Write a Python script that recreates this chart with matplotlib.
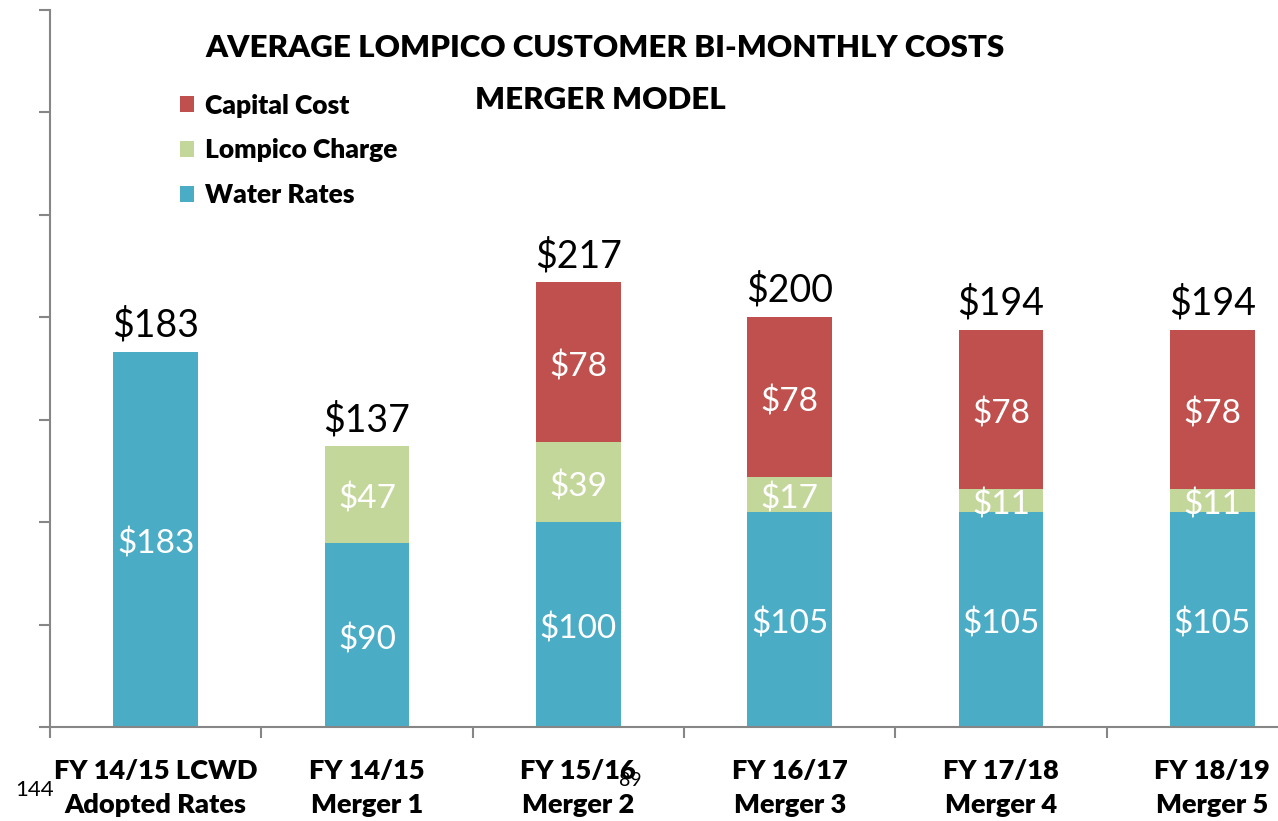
import matplotlib.pyplot as plt
import numpy as np

plt.rcParams['font.family'] = ['Lato', 'DejaVu Sans']

categories = ["FY 14/15 LCWD\nAdopted Rates", "FY 14/15\nMerger 1", "FY 15/16\nMerger 2",
              "FY 16/17\nMerger 3", "FY 17/18\nMerger 4", "FY 18/19\nMerger 5"]
water_rates = [183, 90, 100, 105, 105, 105]
lompico_charge = [0, 47, 39, 17, 11, 11]
capital_cost = [0, 0, 78, 78, 78, 78]
totals = [183, 137, 217, 200, 194, 194]

blue = "#4BACC6"
green = "#C4D79B"
red = "#C0504D"
gray = "#868686"
bold = "heavy"

fig = plt.figure(figsize=(12.78, 8.21), dpi=100)
ax = fig.add_axes([50 / 1278, 94 / 821, 1268 / 1278, 717 / 821])

x = np.arange(len(categories))
w = 0.4
water = np.array(water_rates)
lomp = np.array(lompico_charge)
cap = np.array(capital_cost)

b1 = ax.bar(x, water, w, color=blue, label="Water Rates")
b2 = ax.bar(x, lomp, w, bottom=water, color=green, label="Lompico Charge")
b3 = ax.bar(x, cap, w, bottom=water + lomp, color=red, label="Capital Cost")


def inner_label(xi, yi, v):
    ax.annotate(f"${v}", xy=(xi, yi), xytext=(0, -3.5), textcoords="offset points",
                color="white", ha="center", va="center", fontsize=24)


for i in range(len(x)):
    inner_label(x[i], water[i] / 2, water[i])
    if lomp[i] > 0:
        inner_label(x[i], water[i] + lomp[i] / 2, lomp[i])
    if cap[i] > 0:
        inner_label(x[i], water[i] + lomp[i] + cap[i] / 2, cap[i])
    ax.annotate(f"${totals[i]}", xy=(x[i], totals[i]), xytext=(0, 6), textcoords="offset points",
                ha="center", va="bottom", fontsize=27)

ax.set_xlim(-0.5, 5.5)
ax.set_ylim(0, 350)
ax.set_yticks(np.arange(0, 351, 50))
ax.set_yticklabels([])
ax.set_xticks(np.arange(-0.5, 5.5, 1))
ax.set_xticklabels([])
ax.tick_params(axis="both", direction="out", length=8, width=1.5, color=gray)
ax.spines["top"].set_visible(False)
ax.spines["right"].set_visible(False)
for s in ["left", "bottom"]:
    ax.spines[s].set_color(gray)
    ax.spines[s].set_linewidth(1.5)

for i, c in enumerate(categories):
    ax.text(x[i], -0.044, c, transform=ax.get_xaxis_transform(), ha="center", va="top",
            fontsize=19.5, fontweight=bold, linespacing=1.5)

fig.text(605 / 1278, 1 - 48 / 821, "AVERAGE LOMPICO CUSTOMER BI-MONTHLY COSTS", ha="center", va="center",
         fontsize=22.5, fontweight=bold)
fig.text(600 / 1278, 1 - 100 / 821, "MERGER MODEL", ha="center", va="center",
         fontsize=22.5, fontweight=bold)

ax.legend(handles=[b3, b2, b1], loc="upper left", bbox_to_anchor=(156 / 1278, 1 - 70 / 821),
          bbox_transform=fig.transFigure, frameon=False, prop={"weight": bold, "size": 19},
          handlelength=0.55, handleheight=0.55, handletextpad=0.4, labelspacing=0.78)

fig.text(15 / 1278, 1 - 790 / 821, "144", ha="left", va="center", fontsize=16)
fig.text(619 / 1278, 1 - 780 / 821, "89", ha="left", va="center", fontsize=14)

fig.savefig("out.png", dpi=100)
